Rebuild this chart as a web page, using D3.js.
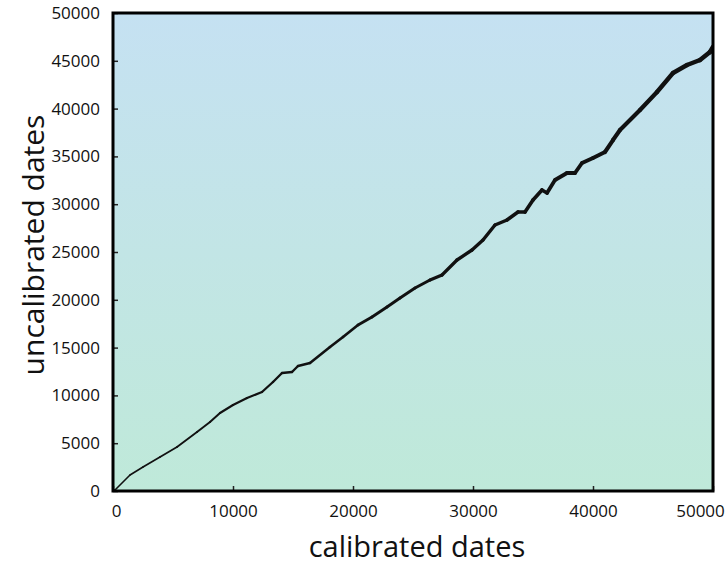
<!DOCTYPE html>
<html>
<head>
<meta charset="utf-8">
<script src="https://cdn.jsdelivr.net/npm/d3@7"></script>
<style>
  body { margin: 0; background: #fff; }
  svg text { font-family: "Open Sans", "DejaVu Sans", sans-serif; fill: #111; }
</style>
</head>
<body>
<svg id="chart" width="727" height="564"></svg>
<script>
// calibrated date (x) vs uncalibrated date (y)
const calibrated = [0, 167, 1417, 2500, 3917, 5333, 7000, 8083, 8917, 10000, 11167, 12417,
  13333, 14083, 14917, 15417, 16417, 18083, 19167, 20417, 21583, 22833, 23917, 25167,
  26417, 27417, 28667, 29917, 30833, 31833, 32833, 33750, 34333, 35000, 35750, 36167,
  36833, 37833, 38500, 39083, 40000, 41000, 41667, 42250, 43917, 45333, 46667, 47833,
  48917, 49750, 50000];
const uncalibrated = [0, 105, 1674, 2510, 3556, 4603, 6172, 7218, 8159, 8996, 9728, 10356,
  11402, 12343, 12448, 13075, 13389, 15063, 16109, 17364, 18201, 19247, 20188, 21234,
  22071, 22594, 24163, 25209, 26255, 27824, 28347, 29184, 29184, 30439, 31485, 31172,
  32531, 33264, 33264, 34310, 34833, 35460, 36715, 37762, 39854, 41736, 43724, 44561,
  45084, 45921, 46444];
const xTicks = [0, 10000, 20000, 30000, 40000, 50000];
const yTicks = [0, 5000, 10000, 15000, 20000, 25000, 30000, 35000, 40000, 45000, 50000];

const margin = {top: 13, left: 113, right: 14, bottom: 73};
const W = 727, H = 564;
const w = W - margin.left - margin.right, h = H - margin.top - margin.bottom;

const svg = d3.select("#chart");
const g = svg.append("g").attr("transform", `translate(${margin.left},${margin.top})`);

const x = d3.scaleLinear().domain([0, 50000]).range([0, w]);
const y = d3.scaleLinear().domain([0, 50000]).range([h, 0]);

// background gradient
const grad = svg.append("defs").append("linearGradient")
  .attr("id", "bg").attr("x1", 0).attr("y1", 0).attr("x2", 0).attr("y2", 1);
grad.append("stop").attr("offset", "0%").attr("stop-color", "#c5e1f2");
grad.append("stop").attr("offset", "100%").attr("stop-color", "#bfe9d9");

g.append("rect").attr("width", w).attr("height", h).attr("fill", "url(#bg)");

// curve, drawn piece by piece so it thickens to the right
const pts = calibrated.map((c, i) => [c, uncalibrated[i]]);
const widthScale = d3.scaleLinear().domain([0, 50000]).range([1.5, 4.6]);
const line = d3.line().x(d => x(d[0])).y(d => y(d[1])).curve(d3.curveCatmullRom);

const clip = svg.select("defs").append("clipPath").attr("id", "clip");
clip.append("rect").attr("width", w).attr("height", h);

const curveG = g.append("g").attr("clip-path", "url(#clip)");
for (let i = 0; i < pts.length - 1; i++) {
  const seg = pts.slice(Math.max(0, i - 1), Math.min(pts.length, i + 3));
  curveG.append("path")
    .attr("d", line([pts[i], pts[i + 1]]))
    .attr("fill", "none")
    .attr("stroke", "#111")
    .attr("stroke-linecap", "round")
    .attr("stroke-linejoin", "round")
    .attr("stroke-width", widthScale((pts[i][0] + pts[i + 1][0]) / 2));
}

// axes with inward ticks
const xAxis = g.append("g").attr("transform", `translate(0,${h})`)
  .call(d3.axisBottom(x).tickValues(xTicks).tickSize(-5).tickPadding(14).tickFormat(d3.format("d")));
const yAxis = g.append("g")
  .call(d3.axisLeft(y).tickValues(yTicks).tickSize(-5).tickPadding(13).tickFormat(d3.format("d")));

[xAxis, yAxis].forEach(a => {
  a.select(".domain").remove();
  a.selectAll(".tick line").attr("stroke", "#222").attr("stroke-width", 1.5);
  a.selectAll(".tick text").style("font-size", "17px").attr("fill", "#1a1a1a");
});
xAxis.selectAll(".tick text").filter(d => d === 50000).attr("dx", -13);
xAxis.selectAll(".tick text").filter(d => d === 0).attr("dx", 3);

// frame
g.append("rect").attr("width", w).attr("height", h)
  .attr("fill", "none").attr("stroke", "#000").attr("stroke-width", 3);

// titles
svg.append("text")
  .attr("x", 417).attr("y", 557)
  .attr("text-anchor", "middle")
  .style("font-size", "29px")
  .text("calibrated dates");

svg.append("text")
  .attr("transform", "translate(44,245) rotate(-90)")
  .attr("text-anchor", "middle")
  .style("font-size", "30px")
  .text("uncalibrated dates");
</script>
</body>
</html>
